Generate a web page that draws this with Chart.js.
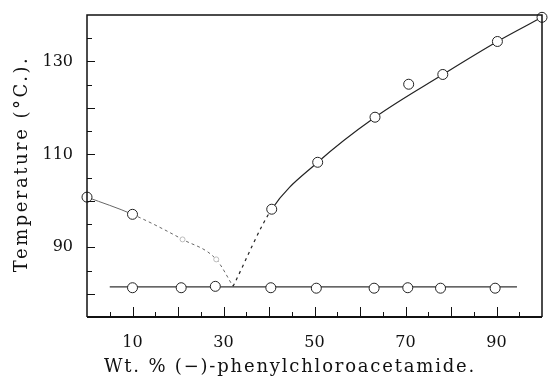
<!DOCTYPE html>
<html>
<head>
<meta charset="utf-8">
<script src="https://cdn.jsdelivr.net/npm/chart.js@4"></script>
<style>
  html, body { margin: 0; padding: 0; background: #fff; }
  #c { display: block; }
</style>
</head>
<body>
<canvas id="c" width="548" height="381"></canvas>
<script>
// liquidus, (+)-rich side (left branch, drawn faint)
const leftX = [0, 10, 21, 28.4, 32.1];
const leftT = [100.8, 97.1, 91.7, 87.4, 81.6];
// liquidus, (-)-rich side (right branch)
const rightX = [32.1, 40.6, 50.7, 63.3, 78.2, 90.2, 100];
const rightT = [81.6, 98.2, 108.3, 118.0, 127.2, 134.3, 139.5];
// measured liquidus points (open circles)
const liqX = [0, 10, 40.6, 50.7, 63.3, 70.7, 78.2, 90.2, 100];
const liqT = [100.8, 97.1, 98.2, 108.3, 118.0, 125.1, 127.2, 134.3, 139.5];
// faint marks on the left branch
const faintX = [21, 28.4];
const faintT = [91.7, 87.4];
// eutectic (solidus) points and line
const solX = [10, 20.7, 28.2, 40.4, 50.4, 63.1, 70.5, 77.7, 89.7];
const solT = [81.3, 81.3, 81.6, 81.3, 81.2, 81.2, 81.3, 81.2, 81.2];
const solLineX = [5, 94.5];
const solLineT = [81.5, 81.5];
// tick labels
const xTickLabels = [10, 30, 50, 70, 90];
const yTickLabels = [90, 110, 130];

const FONT = "'DejaVu Serif', serif";
const pts = (xs, ys) => xs.map((x, i) => ({ x: x, y: ys[i] }));

// frame, inner ticks and axis titles
const framePlugin = {
    id: 'frame',
    afterDraw(chart) {
        const { ctx, chartArea: a, scales } = chart;
        ctx.save();
        ctx.strokeStyle = '#111';
        ctx.lineWidth = 1.5;
        ctx.beginPath();
        ctx.moveTo(a.left, a.bottom);
        ctx.lineTo(a.left, a.top);
        ctx.lineTo(a.right, a.top);
        ctx.lineTo(a.right, a.bottom);
        ctx.stroke();
        ctx.lineWidth = 2;
        ctx.beginPath();
        ctx.moveTo(a.left, a.bottom);
        ctx.lineTo(a.right, a.bottom);
        ctx.stroke();

        ctx.lineWidth = 1;
        ctx.beginPath();
        for (let v = 80; v < 140; v += 5) {
            const y = Math.round(scales.y.getPixelForValue(v)) + 0.5;
            const len = v % 10 === 0 ? 8 : 5;
            ctx.moveTo(a.left, y);
            ctx.lineTo(a.left + len, y);
        }
        for (let v = 5; v < 100; v += 5) {
            const x = Math.round(scales.x.getPixelForValue(v)) + 0.5;
            const len = v % 10 === 0 ? 10 : 5;
            ctx.moveTo(x, a.bottom);
            ctx.lineTo(x, a.bottom - len);
        }
        ctx.stroke();

        ctx.fillStyle = '#111';
        ctx.font = '18px ' + FONT;
        ctx.textBaseline = 'alphabetic';
        ctx.textAlign = 'left';
        ctx.letterSpacing = '1.8px';
        const xt = 'Wt. % (\u2212)-phenylchloroacetamide.';
        const xw = ctx.measureText(xt).width;
        ctx.fillText(xt, 290 - xw / 2, 372);

        ctx.letterSpacing = '2.5px';
        const yt = 'Temperature (\u00B0C.).';
        const yw = ctx.measureText(yt).width;
        ctx.translate(27, 164);
        ctx.rotate(-Math.PI / 2);
        ctx.fillText(yt, -yw / 2, 0);
        ctx.restore();
    }
};

new Chart(document.getElementById('c'), {
    type: 'scatter',
    data: {
        datasets: [
            {
                data: pts(solX, solT),
                pointRadius: 5, pointBorderWidth: 1,
                pointBorderColor: '#222', pointBackgroundColor: '#fff',
                showLine: false, order: 1
            },
            {
                data: pts(liqX, liqT),
                pointRadius: 5, pointBorderWidth: 1,
                pointBorderColor: '#222', pointBackgroundColor: '#fff',
                showLine: false, clip: false, order: 1
            },
            {
                data: pts(faintX, faintT),
                pointRadius: 2.5, pointBorderWidth: 1,
                pointBorderColor: '#bbb', pointBackgroundColor: '#fff',
                showLine: false, order: 1
            },
            {
                data: pts(solLineX, solLineT),
                showLine: true, pointRadius: 0,
                borderColor: '#333', borderWidth: 1.2, order: 2
            },
            {
                data: pts(leftX, leftT),
                showLine: true, pointRadius: 0,
                borderColor: '#666', borderWidth: 1,
                cubicInterpolationMode: 'monotone',
                segment: { borderDash: c => c.p0DataIndex === 0 ? undefined : [3, 3] },
                order: 2
            },
            {
                data: pts(rightX, rightT),
                showLine: true, pointRadius: 0,
                borderColor: '#222', borderWidth: 1.2,
                cubicInterpolationMode: 'monotone',
                segment: { borderDash: c => c.p0DataIndex === 0 ? [3, 4] : undefined },
                clip: false, order: 2
            }
        ]
    },
    options: {
        responsive: false,
        animation: false,
        layout: { padding: { top: 15, right: 3, left: 0, bottom: 0 } },
        plugins: { legend: { display: false }, tooltip: { enabled: false } },
        scales: {
            x: {
                type: 'linear', min: 0, max: 100,
                grid: { display: false, drawTicks: false },
                border: { display: false },
                afterFit: s => { s.height = 64; s.paddingLeft = 0; s.paddingRight = 0; },
                ticks: {
                    stepSize: 10, autoSkip: false, padding: 16,
                    color: '#111', font: { family: FONT, size: 16 },
                    callback: v => xTickLabels.includes(v) ? v : ''
                }
            },
            y: {
                type: 'linear', min: 75, max: 140,
                grid: { display: false, drawTicks: false },
                border: { display: false },
                afterFit: s => { s.width = 87; s.paddingTop = 0; s.paddingBottom = 0; },
                ticks: {
                    stepSize: 5, autoSkip: false, padding: 14,
                    color: '#111', font: { family: FONT, size: 16 },
                    callback: v => yTickLabels.includes(v) ? v : ''
                }
            }
        }
    },
    plugins: [framePlugin]
});
</script>
</body>
</html>
